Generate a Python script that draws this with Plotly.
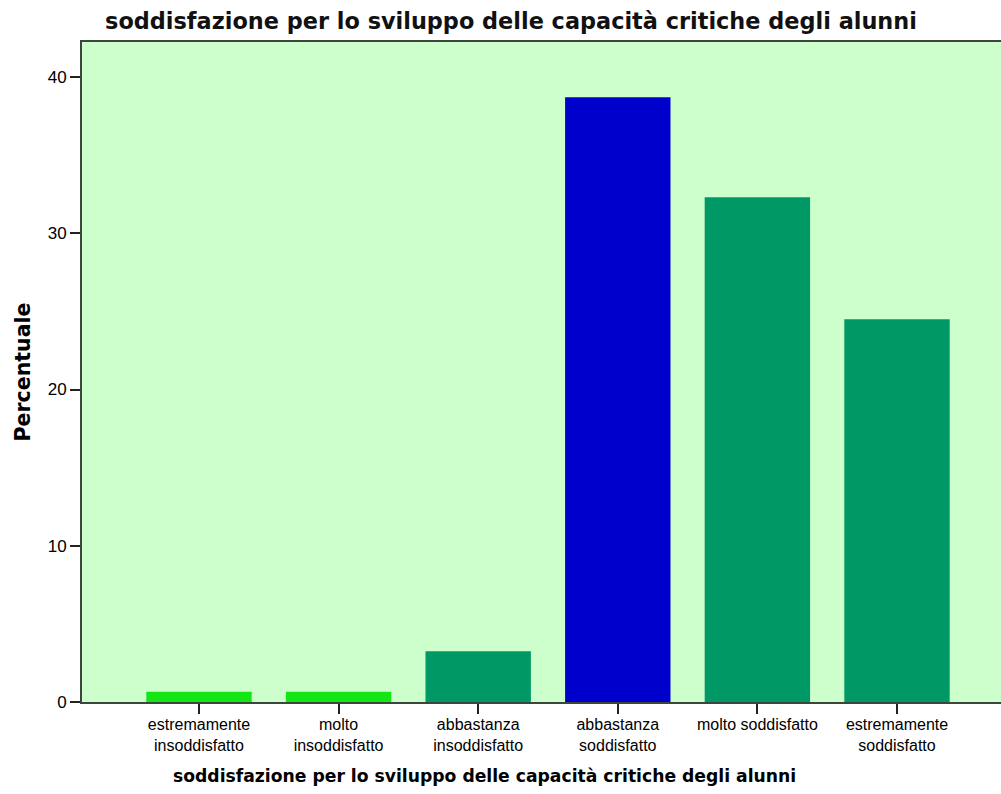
import plotly.graph_objects as go

# categories and percentages
categorie = ["estremamente<br>insoddisfatto", "molto<br>insoddisfatto", "abbastanza<br>insoddisfatto",
             "abbastanza<br>soddisfatto", "molto soddisfatto", "estremamente<br>soddisfatto"]
percentuale = [0.65, 0.65, 3.25, 38.7, 32.3, 24.5]
colori = ["#14E614", "#14E614", "#009966", "#0000CC", "#009966", "#009966"]

titolo = "soddisfazione per lo sviluppo delle capacità critiche degli alunni"

fig = go.Figure()
fig.add_bar(x=list(range(len(categorie))), y=percentuale, marker_color=colori,
            marker_line_width=0, width=0.755, showlegend=False)

fig.update_layout(
    width=1001, height=794,
    margin=dict(l=82, r=0, t=42, b=92),
    paper_bgcolor="white", plot_bgcolor="#CCFFCC",
    font=dict(family="Liberation Sans, Arial", size=16, color="black"),
    title=dict(text="<b>" + titolo + "</b>", x=0.5105, xanchor="center", y=0.973, yanchor="middle",
               font=dict(family="DejaVu Sans", size=22.4, color="#111")),
)

# plot runs off the right side of the picture, like the original
fig.update_xaxes(
    range=[-0.838, 5.745], tickmode="array", tickvals=list(range(len(categorie))), ticktext=categorie,
    showline=True, linecolor="#3c463c", linewidth=2, mirror=True,
    ticks="outside", ticklen=10, tickcolor="#222", tickwidth=2, ticklabelstandoff=-3,
    tickfont=dict(size=16), showgrid=False, zeroline=False,
)
fig.update_yaxes(
    range=[0, 42.24], tickvals=[0, 10, 20, 30, 40],
    showline=True, linecolor="#3c463c", linewidth=2, mirror=False,
    ticks="outside", ticklen=10, tickcolor="#222", tickwidth=2,
    tickfont=dict(size=17), showgrid=False, zeroline=False,
    title=dict(text="<b>Percentuale</b>", font=dict(family="DejaVu Sans", size=20.5), standoff=12),
)

fig.add_annotation(text="<b>" + titolo + "</b>", xref="paper", yref="paper", x=0.4385, y=-0.112,
                   xanchor="center", yanchor="middle", showarrow=False,
                   font=dict(family="DejaVu Sans", size=17.2, color="black"))

# drop the default 8px body margin so the figure sits at the window corner
fig.write_html("out.html", config={"displayModeBar": False},
               post_script="document.body.style.margin='0';document.body.style.overflow='hidden';")
